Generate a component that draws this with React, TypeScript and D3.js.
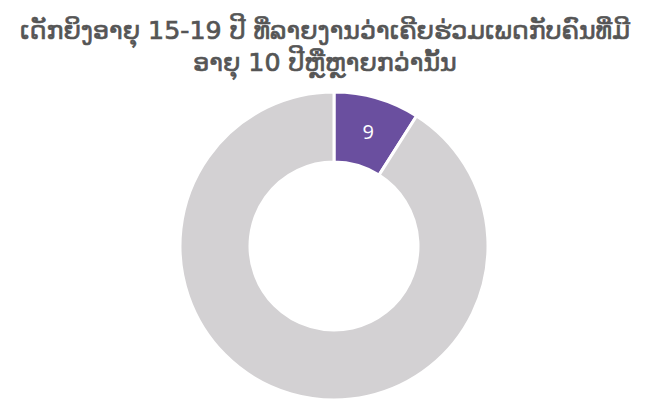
import React from "react";
import * as d3 from "d3";

const categories = ["yes", "no"];
const values = [9, 91];
const labels = ["9", ""];
const colors = ["#6a4f9f", "#d3d1d3"];
const titleLines = [
  "ເດັກຍິງອາຍຸ 15-19 ປີ ທີ່ລາຍງານວ່າເຄີຍຮ່ວມເພດກັບຄົນທີ່ມີ",
  "ອາຍຸ 10 ປີຫຼືຫຼາຍກວ່ານັ້ນ",
];

export default function App() {
  const width = 650;
  const height = 403;
  const cx = 334;
  const cy = 246;
  const outer = 154;
  const inner = 84;
  const pie = d3.pie<number>().sort(null).value((d) => d);
  const arcs = pie(values);
  const arc = d3.arc<d3.PieArcDatum<number>>().innerRadius(inner).outerRadius(outer);
  return (
    <svg width={width} height={height} style={{ position: "absolute", left: 0, top: 0 }}>
      <rect width={width} height={height} fill="#fff" />
      {titleLines.map((t, i) => (
        <text
          key={i}
          x={325}
          y={39 + i * 32}
          textAnchor="middle"
          fontFamily="'DejaVu Sans', sans-serif"
          fontSize={25.3}
          fill="#555555"
          stroke="#555555"
          strokeWidth={0.7}
        >
          {t}
        </text>
      ))}
      <g transform={`translate(${cx},${cy})`}>
        {arcs.map((a, i) => (
          <path key={categories[i]} d={arc(a) || ""} fill={colors[i]} stroke="#fff" strokeWidth={3} />
        ))}
        {arcs.map((a, i) => {
          const [x, y] = arc.centroid(a);
          return labels[i] ? (
            <text key={i} x={x + 1} y={y} textAnchor="middle" dominantBaseline="central" fill="#fff" fontSize={20} fontFamily="'Open Sans', sans-serif">
              {labels[i]}
            </text>
          ) : null;
        })}
      </g>
    </svg>
  );
}
